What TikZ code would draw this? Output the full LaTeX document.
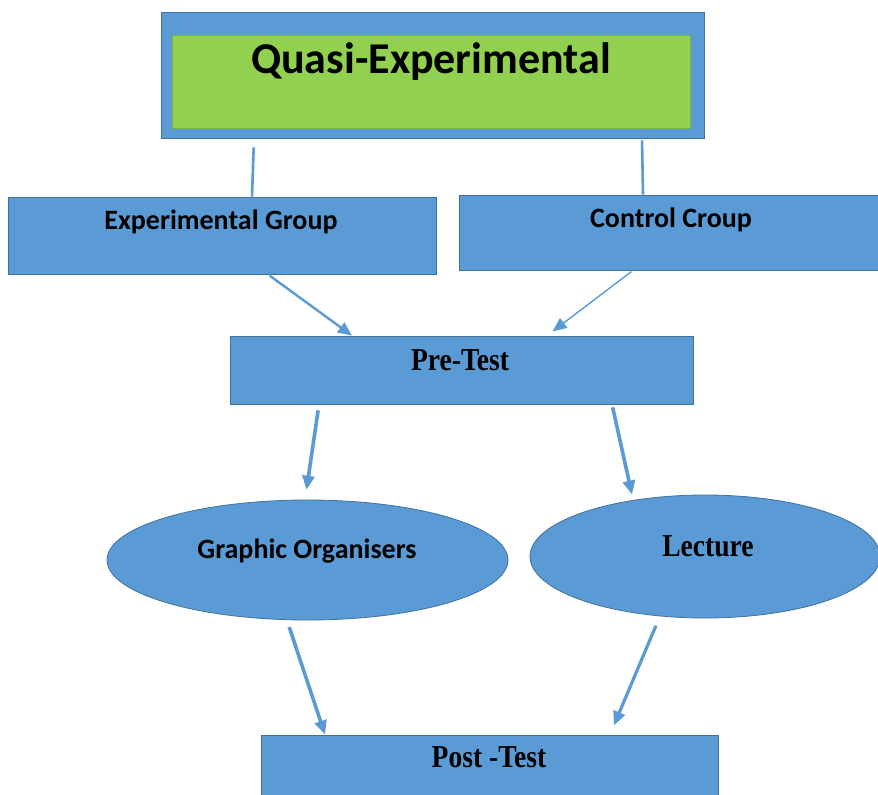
\documentclass[tikz,border=0pt]{standalone}
\usepackage{fontspec}
\setmainfont{Liberation Serif}
\newfontfamily\calfont{Carlito}
\usetikzlibrary{shapes.geometric,arrows.meta}
\definecolor{boxblue}{HTML}{5B9BD5}
\definecolor{edgeblue}{HTML}{41719C}
\definecolor{boxgreen}{HTML}{92D050}
\begin{document}
\begin{tikzpicture}[x=1pt,y=-1pt,
  bluebox/.style={draw=edgeblue, fill=boxblue, line width=0.8pt, rectangle, inner sep=0pt},
  greenbox/.style={fill=boxgreen, draw=boxgreen!85!black, line width=0.3pt, rectangle, inner sep=0pt},
  blueell/.style={draw=edgeblue, fill=boxblue, line width=0.8pt, ellipse, inner sep=0pt},
  caltext/.style={font=\calfont\bfseries\fontsize{28}{32}\selectfont, inner sep=0pt, text=black},
  sertext/.style={font=\rmfamily\bfseries\fontsize{29}{33}\selectfont, inner sep=0pt, text=black, xscale=0.95, yscale=1.1},
  titletext/.style={font=\calfont\bfseries\fontsize{44}{50}\selectfont, inner sep=0pt, text=black},
  plainline/.style={draw=boxblue, line width=2.6pt},
  arr/.style={draw=boxblue, line width=#1, -{Triangle[length=14pt,width=12pt]}},
  arr/.default=3.6pt
]
\clip (0,0) rectangle (878,795);
\fill[white] (0,0) rectangle (878,795);

% top
\node[bluebox, minimum width=543pt, minimum height=126pt] (top) at (432.5,75) {};
\node[greenbox, minimum width=518pt, minimum height=93pt] (inner) at (431,81.5) {};
\node[titletext] (title) at (431,62) {Quasi-Experimental};

% groups
\node[bluebox, minimum width=428pt, minimum height=77pt] (exp) at (222,235.5) {};
\node[caltext] (expT) at (221,222) {Experimental Group};
\node[bluebox, minimum width=424pt, minimum height=75pt] (ctl) at (671,232.5) {};
\node[caltext] (ctlT) at (671,220) {Control Croup};

% pre-test
\node[bluebox, minimum width=463pt, minimum height=68pt] (pre) at (461.5,370) {};
\node[sertext] (preT) at (460,360) {Pre-Test};

% ellipses
\node[blueell, minimum width=401pt, minimum height=120pt] (go) at (307.5,560) {};
\node[caltext] (goT) at (307,551) {Graphic Organisers};
\node[blueell, minimum width=350pt, minimum height=123pt] (lec) at (705,556.5) {};
\node[sertext] (lecT) at (708,546) {Lecture};

% post-test
\node[bluebox, minimum width=457pt, minimum height=80pt] (post) at (489.5,775) {};
\node[sertext] (postT) at (489,757) {Post -Test};

% connectors
\draw[plainline, shorten <=9pt] (top.south -| 254,0) -- (exp.north -| 252,0);
\draw[plainline, shorten <=2pt] (top.south -| 642,0) -- (ctl.north -| 643,0);

\draw[arr=2.4pt, shorten <=2pt] (exp.south -| 268,0) -- (pre.north -| 352,0);
\draw[arr=1.4pt, shorten <=2pt, shorten >=7pt] (ctl.south -| 633,0) -- (pre.north -| 547,0);

\draw[arr, shorten <=6pt, shorten >=10pt] (pre.south -| 319,0) -- (go.north -| 305,0);
\draw[arr, shorten <=3pt] (pre.south -| 612,0) -- (lec.north -| 632,0);

\draw[arr, shorten <=7pt] (go.south -| 287,0) -- (post.north -| 325,0);
\draw[arr=3.2pt, shorten <=8pt, shorten >=10pt] (lec.south -| 659,0) -- (post.north -| 610,0);
\end{tikzpicture}
\end{document}
